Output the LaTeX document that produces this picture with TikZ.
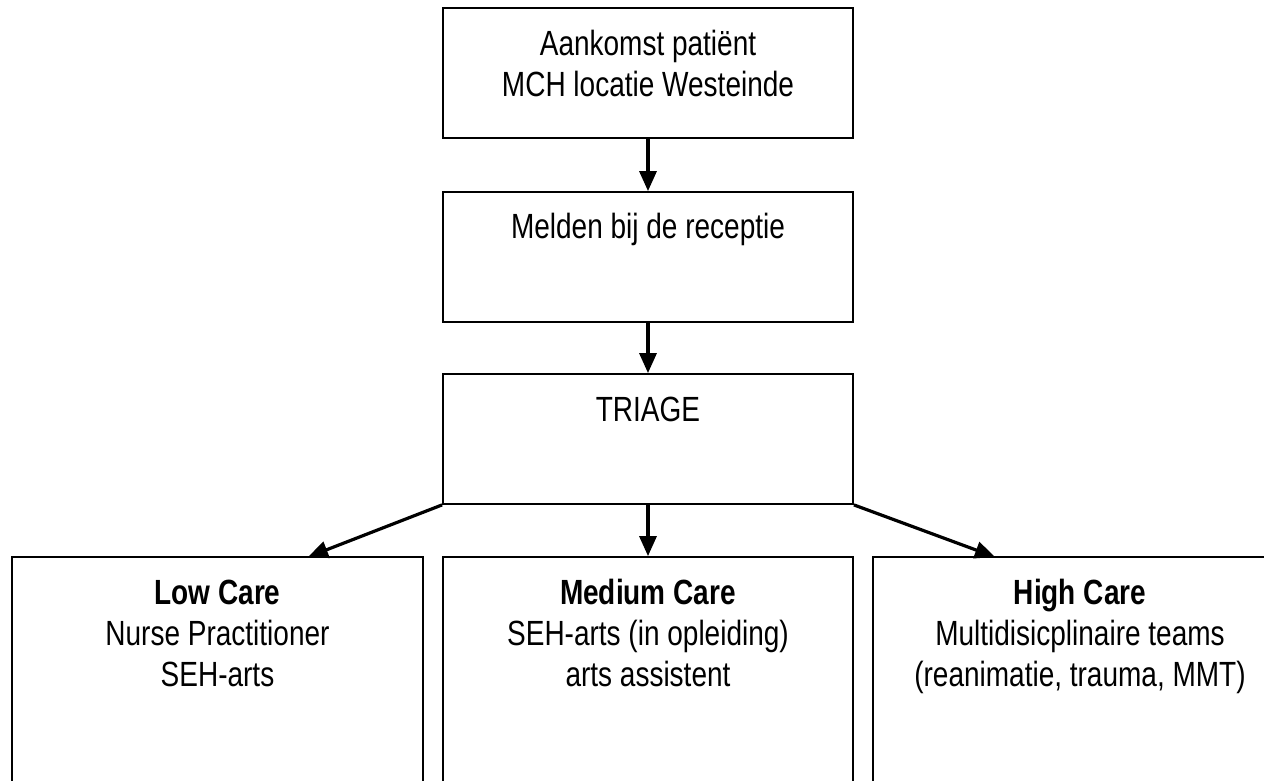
\documentclass[tikz,border=0pt]{standalone}
\usepackage{fontspec}
\setmainfont[FakeStretch=0.8]{Liberation Sans}
\usetikzlibrary{arrows.meta}
\begin{document}
\begin{tikzpicture}[x=1pt,y=-1pt,
  box/.style={draw, line width=1.8pt, inner sep=0pt},
  txt/.style={font=\fontsize{35}{41}\selectfont, align=center, anchor=base, inner sep=0pt},
  conn/.style={line width=3.2pt, -{Triangle[length=20pt,width=17pt]}}]
\useasboundingbox (0,0) rectangle (1264,781);
\clip (0,0) rectangle (1264,781);
% top boxes
\node[box, minimum width=410, minimum height=130] (b1) at (648,73) {};
\node[box, minimum width=410, minimum height=130] (b2) at (648,257) {};
\node[box, minimum width=410, minimum height=130] (b3) at (648,439) {};
% bottom boxes
\node[box, minimum width=411, minimum height=343] (low) at (217.5,728.5) {};
\node[box, minimum width=410, minimum height=343] (med) at (648,728.5) {};
\node[box, minimum width=414, minimum height=343] (high) at (1080,728.5) {};
% texts (base = baseline of last line)
\node[txt] (t1) at (648,97) {Aankomst patiënt\\MCH locatie Westeinde};
\node[txt] (t2) at (648,238) {Melden bij de receptie};
\node[txt] (t3) at (648,421) {TRIAGE};
\node[txt] (tl) at (217.5,686) {\textbf{Low Care}\\Nurse Practitioner\\SEH-arts};
\node[txt] (tm) at (648,686) {\textbf{Medium Care}\\SEH-arts (in opleiding)\\arts assistent};
\node[txt] (th) at (1080,686) {\textbf{High Care}\\Multidisicplinaire teams\\(reanimatie, trauma, MMT)};
% connectors
\coordinate (lowin) at (308,557);
\coordinate (highin) at (995,557);
\draw[conn] (b1.south) -- (b2.north);
\draw[conn] (b2.south) -- (b3.north);
\draw[conn] (b3.south) -- (med.north);
\draw[conn] (b3.south west) -- (lowin);
\draw[conn] (b3.south east) -- (highin);
\end{tikzpicture}
\end{document}
